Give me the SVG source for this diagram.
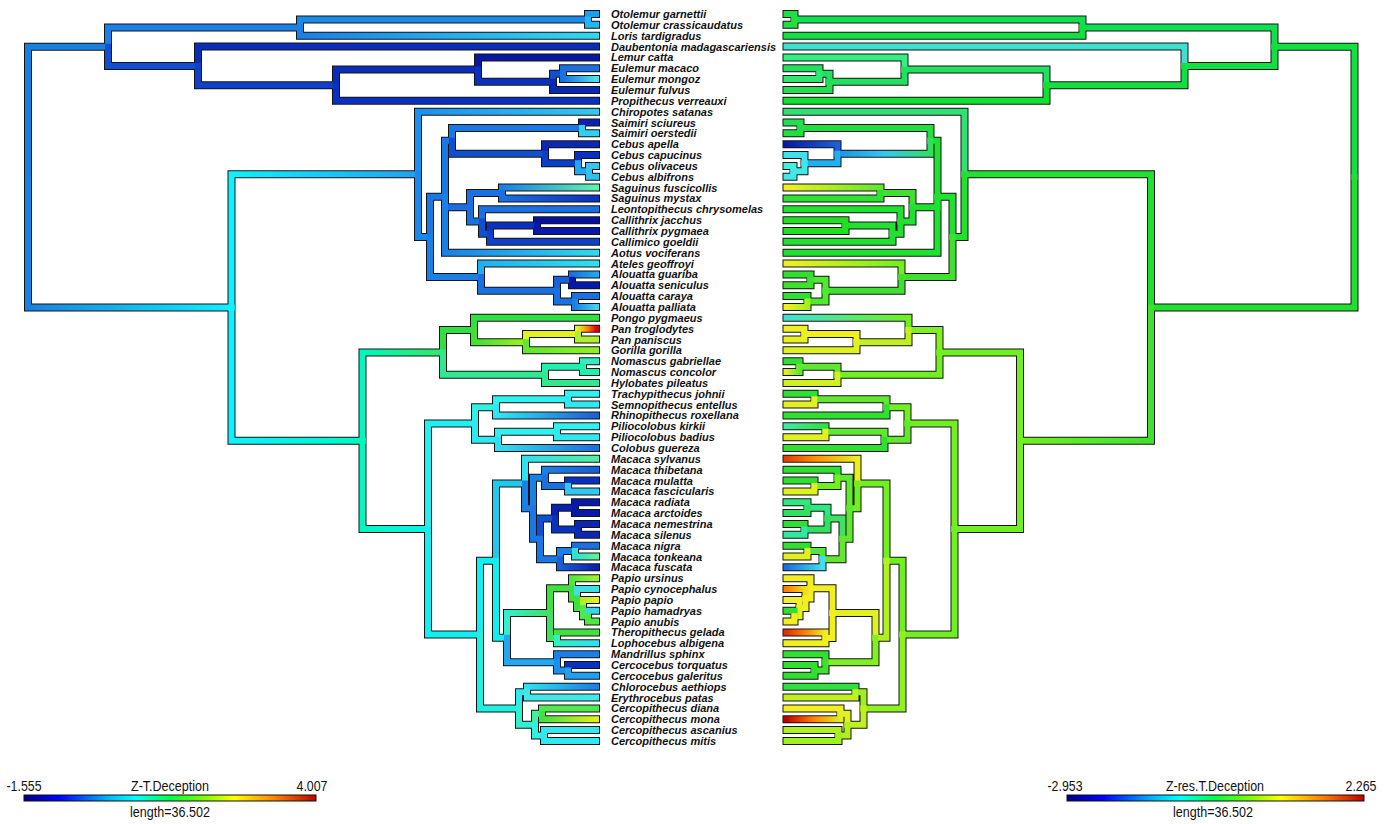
<svg xmlns="http://www.w3.org/2000/svg" xmlns:xlink="http://www.w3.org/1999/xlink" width="1386" height="824" viewBox="0 0 1386 824">
<style>
.ol{fill:none;stroke:#141414;stroke-width:8;stroke-linecap:square;stroke-linejoin:miter}
.cl path{fill:none;stroke-width:6;stroke-linecap:square;stroke-linejoin:miter}
.lab text{font-family:"Liberation Sans",Arial,sans-serif;font-weight:bold;font-style:italic;font-size:11px;fill:#111}
.leg text{font-family:"Liberation Sans",Arial,sans-serif;font-size:14px;fill:#111;text-anchor:middle}
</style>
<defs>
<linearGradient id="rb" x1="0" x2="1" y1="0" y2="0"><stop offset="0" stop-color="#00008b"/><stop offset="0.12" stop-color="#0000ff"/><stop offset="0.3" stop-color="#00c0ff"/><stop offset="0.38" stop-color="#00ffff"/><stop offset="0.5" stop-color="#00ff40"/><stop offset="0.62" stop-color="#80ff00"/><stop offset="0.72" stop-color="#ffff00"/><stop offset="0.86" stop-color="#ff8000"/><stop offset="1" stop-color="#c00000"/></linearGradient>
<linearGradient id="gLH" gradientUnits="userSpaceOnUse" x1="28" x2="231" y1="0" y2="0"><stop offset="0" stop-color="#1a80e0"/><stop offset="1" stop-color="#10f0ff"/></linearGradient>
<linearGradient id="gLoris" gradientUnits="userSpaceOnUse" x1="300" x2="596" y1="0" y2="0"><stop offset="0" stop-color="#1a80e6"/><stop offset="1" stop-color="#30d8f0"/></linearGradient>
<linearGradient id="gMongoz" gradientUnits="userSpaceOnUse" x1="563" x2="596" y1="0" y2="0"><stop offset="0" stop-color="#1a70e0"/><stop offset="1" stop-color="#50e0f0"/></linearGradient>
<linearGradient id="gHP" gradientUnits="userSpaceOnUse" x1="231" x2="418" y1="0" y2="0"><stop offset="0" stop-color="#10f0ff"/><stop offset="1" stop-color="#20a0f0"/></linearGradient>
<linearGradient id="gHC" gradientUnits="userSpaceOnUse" x1="231" x2="362" y1="0" y2="0"><stop offset="0" stop-color="#10f0ff"/><stop offset="1" stop-color="#00f8c0"/></linearGradient>
<linearGradient id="gChir" gradientUnits="userSpaceOnUse" x1="418" x2="596" y1="0" y2="0"><stop offset="0" stop-color="#1a90f0"/><stop offset="1" stop-color="#30c8f0"/></linearGradient>
<linearGradient id="gAotus" gradientUnits="userSpaceOnUse" x1="445" x2="596" y1="0" y2="0"><stop offset="0" stop-color="#1a80e6"/><stop offset="1" stop-color="#30d8f0"/></linearGradient>
<linearGradient id="gFusc" gradientUnits="userSpaceOnUse" x1="502" x2="596" y1="0" y2="0"><stop offset="0" stop-color="#1a80e6"/><stop offset="1" stop-color="#60f0b0"/></linearGradient>
<linearGradient id="gMyst" gradientUnits="userSpaceOnUse" x1="502" x2="596" y1="0" y2="0"><stop offset="0" stop-color="#1a70e0"/><stop offset="1" stop-color="#0a30c0"/></linearGradient>
<linearGradient id="gAteles" gradientUnits="userSpaceOnUse" x1="481" x2="596" y1="0" y2="0"><stop offset="0" stop-color="#20b0f0"/><stop offset="1" stop-color="#30e0f0"/></linearGradient>
<linearGradient id="gGuar" gradientUnits="userSpaceOnUse" x1="572" x2="596" y1="0" y2="0"><stop offset="0" stop-color="#1a70e0"/><stop offset="1" stop-color="#20a8f0"/></linearGradient>
<linearGradient id="gPall" gradientUnits="userSpaceOnUse" x1="575" x2="596" y1="0" y2="0"><stop offset="0" stop-color="#1a80e6"/><stop offset="1" stop-color="#40d0f0"/></linearGradient>
<linearGradient id="gHomS" gradientUnits="userSpaceOnUse" x1="362" x2="443" y1="0" y2="0"><stop offset="0" stop-color="#00f8c0"/><stop offset="1" stop-color="#30e860"/></linearGradient>
<linearGradient id="gCerS" gradientUnits="userSpaceOnUse" x1="362" x2="428" y1="0" y2="0"><stop offset="0" stop-color="#00f8c0"/><stop offset="1" stop-color="#10f0e8"/></linearGradient>
<linearGradient id="gHn" gradientUnits="userSpaceOnUse" x1="474" x2="526" y1="0" y2="0"><stop offset="0" stop-color="#40e030"/><stop offset="1" stop-color="#a0f020"/></linearGradient>
<linearGradient id="gTrog" gradientUnits="userSpaceOnUse" x1="578" x2="596" y1="0" y2="0"><stop offset="0" stop-color="#e8f020"/><stop offset="0.5" stop-color="#ff9000"/><stop offset="1" stop-color="#e00000"/></linearGradient>
<linearGradient id="gGor" gradientUnits="userSpaceOnUse" x1="526" x2="596" y1="0" y2="0"><stop offset="0" stop-color="#60e830"/><stop offset="1" stop-color="#90f020"/></linearGradient>
<linearGradient id="gRhino" gradientUnits="userSpaceOnUse" x1="496" x2="596" y1="0" y2="0"><stop offset="0" stop-color="#30e8f0"/><stop offset="1" stop-color="#1a60d8"/></linearGradient>
<linearGradient id="gColob" gradientUnits="userSpaceOnUse" x1="498" x2="596" y1="0" y2="0"><stop offset="0" stop-color="#30e0f0"/><stop offset="1" stop-color="#1a70e0"/></linearGradient>
<linearGradient id="gSylv" gradientUnits="userSpaceOnUse" x1="525" x2="596" y1="0" y2="0"><stop offset="0" stop-color="#30e0f0"/><stop offset="1" stop-color="#50f0a0"/></linearGradient>
<linearGradient id="gThib" gradientUnits="userSpaceOnUse" x1="545" x2="596" y1="0" y2="0"><stop offset="0" stop-color="#1a80e6"/><stop offset="1" stop-color="#1a60d8"/></linearGradient>
<linearGradient id="gTonk" gradientUnits="userSpaceOnUse" x1="575" x2="596" y1="0" y2="0"><stop offset="0" stop-color="#30e0d0"/><stop offset="1" stop-color="#60f0a0"/></linearGradient>
<linearGradient id="gFusca" gradientUnits="userSpaceOnUse" x1="560" x2="596" y1="0" y2="0"><stop offset="0" stop-color="#1a60d8"/><stop offset="1" stop-color="#0a20b0"/></linearGradient>
<linearGradient id="gPp2" gradientUnits="userSpaceOnUse" x1="507" x2="550" y1="0" y2="0"><stop offset="0" stop-color="#30f0d0"/><stop offset="1" stop-color="#40e060"/></linearGradient>
<linearGradient id="gUrs" gradientUnits="userSpaceOnUse" x1="572" x2="596" y1="0" y2="0"><stop offset="0" stop-color="#50e840"/><stop offset="1" stop-color="#a0f030"/></linearGradient>
<linearGradient id="gPapio" gradientUnits="userSpaceOnUse" x1="583" x2="596" y1="0" y2="0"><stop offset="0" stop-color="#b0f020"/><stop offset="1" stop-color="#e8f020"/></linearGradient>
<linearGradient id="gLopho" gradientUnits="userSpaceOnUse" x1="557" x2="596" y1="0" y2="0"><stop offset="0" stop-color="#30f0c0"/><stop offset="1" stop-color="#30e0f0"/></linearGradient>
<linearGradient id="gChlor" gradientUnits="userSpaceOnUse" x1="527" x2="596" y1="0" y2="0"><stop offset="0" stop-color="#30e0f0"/><stop offset="1" stop-color="#1a80e6"/></linearGradient>
<linearGradient id="gMona" gradientUnits="userSpaceOnUse" x1="542" x2="596" y1="0" y2="0"><stop offset="0" stop-color="#40e040"/><stop offset="1" stop-color="#e0f020"/></linearGradient>
<linearGradient id="rHC" gradientUnits="userSpaceOnUse" x1="231" x2="362" y1="0" y2="0"><stop offset="0" stop-color="#40e030"/><stop offset="1" stop-color="#70f020"/></linearGradient>
<linearGradient id="rCbs" gradientUnits="userSpaceOnUse" x1="452" x2="545" y1="0" y2="0"><stop offset="0" stop-color="#30e060"/><stop offset="0.5" stop-color="#30c8f0"/><stop offset="1" stop-color="#2090e8"/></linearGradient>
<linearGradient id="rApella" gradientUnits="userSpaceOnUse" x1="545" x2="596" y1="0" y2="0"><stop offset="0" stop-color="#1a60d8"/><stop offset="1" stop-color="#0a1aa8"/></linearGradient>
<linearGradient id="rFusc" gradientUnits="userSpaceOnUse" x1="502" x2="596" y1="0" y2="0"><stop offset="0" stop-color="#60e830"/><stop offset="1" stop-color="#f0f020"/></linearGradient>
<linearGradient id="rAteles" gradientUnits="userSpaceOnUse" x1="481" x2="596" y1="0" y2="0"><stop offset="0" stop-color="#70f020"/><stop offset="1" stop-color="#f0f020"/></linearGradient>
<linearGradient id="rPall" gradientUnits="userSpaceOnUse" x1="575" x2="596" y1="0" y2="0"><stop offset="0" stop-color="#a0f020"/><stop offset="1" stop-color="#f0f020"/></linearGradient>
<linearGradient id="rPongo" gradientUnits="userSpaceOnUse" x1="474" x2="596" y1="0" y2="0"><stop offset="0" stop-color="#70f020"/><stop offset="1" stop-color="#40e0d0"/></linearGradient>
<linearGradient id="rT33" gradientUnits="userSpaceOnUse" x1="583" x2="596" y1="0" y2="0"><stop offset="0" stop-color="#60e830"/><stop offset="1" stop-color="#e0f020"/></linearGradient>
<linearGradient id="rPil38" gradientUnits="userSpaceOnUse" x1="557" x2="596" y1="0" y2="0"><stop offset="0" stop-color="#30e040"/><stop offset="1" stop-color="#40e8a0"/></linearGradient>
<linearGradient id="rSylv" gradientUnits="userSpaceOnUse" x1="525" x2="596" y1="0" y2="0"><stop offset="0" stop-color="#e8f020"/><stop offset="0.6" stop-color="#ff9000"/><stop offset="1" stop-color="#e04000"/></linearGradient>
<linearGradient id="rFusca" gradientUnits="userSpaceOnUse" x1="560" x2="596" y1="0" y2="0"><stop offset="0" stop-color="#40e0f0"/><stop offset="1" stop-color="#1a70e0"/></linearGradient>
<linearGradient id="rCyno" gradientUnits="userSpaceOnUse" x1="577" x2="596" y1="0" y2="0"><stop offset="0" stop-color="#f0e020"/><stop offset="1" stop-color="#ff8000"/></linearGradient>
<linearGradient id="rThero" gradientUnits="userSpaceOnUse" x1="557" x2="596" y1="0" y2="0"><stop offset="0" stop-color="#f0f020"/><stop offset="0.6" stop-color="#ff7000"/><stop offset="1" stop-color="#e03000"/></linearGradient>
<linearGradient id="rMona" gradientUnits="userSpaceOnUse" x1="542" x2="596" y1="0" y2="0"><stop offset="0" stop-color="#e0f020"/><stop offset="0.5" stop-color="#ff8000"/><stop offset="1" stop-color="#c00000"/></linearGradient>
<path id="T" d="M28 177.11V46.72H108M28 177.11V307.5H231.5M108 46.72V27.56H300M108 46.72V65.88H198M300 27.56V19.43H588M300 27.56V35.7H596M588 19.43V14H596M588 19.43V24.85H596M198 65.88V46.55H596M198 65.88V85.2H336M336 85.2V69.6H478M336 85.2V100.8H596M478 69.6V57.4H596M478 69.6V81.81H553M553 81.81V73.68H563M553 81.81V89.95H596M563 73.68V68.25H596M563 73.68V79.1H596M231.5 307.5V174.29H418M231.5 307.5V440.72H362.5M418 174.29V111.65H596M418 174.29V236.94H430M430 236.94V196.76H445M430 236.94V277.11H481M445 196.76V140.81H452M445 196.76V207.27H470M445 196.76V252.7H596M452 140.81V127.93H582M452 140.81V153.7H545M582 127.93V122.5H596M582 127.93V133.35H596M545 153.7V144.2H596M545 153.7V163.19H578M578 163.19V155.05H596M578 163.19V171.33H589M589 171.33V165.9H596M589 171.33V176.75H596M470 207.27V193.03H502M470 207.27V221.5H482M502 193.03V187.6H596M502 193.03V198.45H596M482 221.5V209.3H596M482 221.5V233.71H490M490 233.71V225.58H537M490 233.71V241.85H596M537 225.58V220.15H596M537 225.58V231H596M481 277.11V263.55H596M481 277.11V290.68H557M557 290.68V279.83H572M557 290.68V301.53H575M572 279.83V274.4H596M572 279.83V285.25H596M575 301.53V296.1H596M575 301.53V306.95H596M362.5 440.72V352.38H443M362.5 440.72V529.06H428M443 352.38V330H474M443 352.38V374.76H545M474 330V317.8H596M474 330V342.21H526M526 342.21V334.08H578M526 342.21V350.35H596M578 334.08V328.65H596M578 334.08V339.5H596M545 374.76V366.63H583M545 374.76V382.9H596M583 366.63V361.2H596M583 366.63V372.05H596M428 529.06V423.59H475M428 529.06V634.53H480M475 423.59V407.31H496M475 423.59V439.86H498M496 407.31V399.18H568M496 407.31V415.45H596M568 399.18V393.75H596M568 399.18V404.6H596M498 439.86V431.73H557M498 439.86V448H596M557 431.73V426.3H596M557 431.73V437.15H596M480 634.53V560.65H496M480 634.53V708.4H519M496 560.65V483.6H525M496 560.65V637.7H507M525 483.6V458.85H596M525 483.6V508.36H533M533 508.36V477.84H545M533 508.36V538.87H540M545 477.84V469.7H596M545 477.84V485.98H568M568 485.98V480.55H596M568 485.98V491.4H596M540 538.87V518.53H555M540 538.87V559.21H560M555 518.53V507.68H575M555 518.53V529.38H578M575 507.68V502.25H596M575 507.68V513.1H596M578 529.38V523.95H596M578 529.38V534.8H596M560 559.21V551.08H575M560 559.21V567.35H596M575 551.08V545.65H596M575 551.08V556.5H596M507 637.7V613.12H550M507 637.7V662.29H557M550 613.12V588.37H572M550 613.12V637.88H557M572 588.37V578.2H596M572 588.37V598.54H577M577 598.54V589.05H596M577 598.54V608.04H583M583 608.04V599.9H596M583 608.04V616.18H588M588 616.18V610.75H596M588 616.18V621.6H596M557 637.88V632.45H596M557 637.88V643.3H596M557 662.29V654.15H596M557 662.29V670.43H568M568 670.43V665H596M568 670.43V675.85H596M519 708.4V692.13H527M519 708.4V724.68H535M527 692.13V686.7H596M527 692.13V697.55H596M535 724.68V713.83H542M535 724.68V735.53H544M542 713.83V708.4H596M542 713.83V719.25H596M544 735.53V730.1H596M544 735.53V740.95H596"/>
</defs>
<rect width="1386" height="824" fill="#fff"/>
<g id="connectors">
<g id="tree-left">
<use href="#T" class="ol"/>
<g class="cl">
<path d="M28 177.11V46.72H108" stroke="#1a80e0"/>
<path d="M28 177.11V307.5H231.5" stroke="url(#gLH)"/>
<path d="M108 46.72V27.56H300" stroke="#1a80e6"/>
<path d="M108 46.72V65.88H198" stroke="#1050d0"/>
<path d="M300 27.56V19.43H588" stroke="#1a8ae8"/>
<path d="M300 27.56V35.7H596" stroke="url(#gLoris)"/>
<path d="M588 19.43V14H596" stroke="#18a0f0"/>
<path d="M588 19.43V24.85H596" stroke="#20b8f0"/>
<path d="M198 65.88V46.55H596" stroke="#0a2cb8"/>
<path d="M198 65.88V85.2H336" stroke="#0f40c8"/>
<path d="M336 85.2V69.6H478" stroke="#0a2cb8"/>
<path d="M336 85.2V100.8H596" stroke="#0a30c0"/>
<path d="M478 69.6V57.4H596" stroke="#0818a0"/>
<path d="M478 69.6V81.81H553" stroke="#0a30c0"/>
<path d="M553 81.81V73.68H563" stroke="#1050d0"/>
<path d="M553 81.81V89.95H596" stroke="#0a28b4"/>
<path d="M563 73.68V68.25H596" stroke="#1a70e0"/>
<path d="M563 73.68V79.1H596" stroke="url(#gMongoz)"/>
<path d="M231.5 307.5V174.29H418" stroke="url(#gHP)"/>
<path d="M231.5 307.5V440.72H362.5" stroke="url(#gHC)"/>
<path d="M418 174.29V111.65H596" stroke="url(#gChir)"/>
<path d="M418 174.29V236.94H430" stroke="#1a88ec"/>
<path d="M430 236.94V196.76H445" stroke="#1a78e4"/>
<path d="M430 236.94V277.11H481" stroke="#1a80e6"/>
<path d="M445 196.76V140.81H452" stroke="#1a78e4"/>
<path d="M445 196.76V207.27H470" stroke="#1a6ee0"/>
<path d="M445 196.76V252.7H596" stroke="url(#gAotus)"/>
<path d="M452 140.81V127.93H582" stroke="#1a78e4"/>
<path d="M452 140.81V153.7H545" stroke="#1050d0"/>
<path d="M582 127.93V122.5H596" stroke="#0a20b0"/>
<path d="M582 127.93V133.35H596" stroke="#30d0f0"/>
<path d="M545 153.7V144.2H596" stroke="#0a28b4"/>
<path d="M545 153.7V163.19H578" stroke="#0a40c8"/>
<path d="M578 163.19V155.05H596" stroke="#0a30c0"/>
<path d="M578 163.19V171.33H589" stroke="#20a8f0"/>
<path d="M589 171.33V165.9H596" stroke="#30c8f0"/>
<path d="M589 171.33V176.75H596" stroke="#30c0f0"/>
<path d="M470 207.27V193.03H502" stroke="#1a70e0"/>
<path d="M470 207.27V221.5H482" stroke="#1a70e0"/>
<path d="M502 193.03V187.6H596" stroke="url(#gFusc)"/>
<path d="M502 193.03V198.45H596" stroke="url(#gMyst)"/>
<path d="M482 221.5V209.3H596" stroke="#1a70e0"/>
<path d="M482 221.5V233.71H490" stroke="#1050d0"/>
<path d="M490 233.71V225.58H537" stroke="#0a30c0"/>
<path d="M490 233.71V241.85H596" stroke="#1040c8"/>
<path d="M537 225.58V220.15H596" stroke="#0810a0"/>
<path d="M537 225.58V231H596" stroke="#0818a8"/>
<path d="M481 277.11V263.55H596" stroke="url(#gAteles)"/>
<path d="M481 277.11V290.68H557" stroke="#1a70e0"/>
<path d="M557 290.68V279.83H572" stroke="#1a60d8"/>
<path d="M557 290.68V301.53H575" stroke="#1a70e0"/>
<path d="M572 279.83V274.4H596" stroke="url(#gGuar)"/>
<path d="M572 279.83V285.25H596" stroke="#0818a8"/>
<path d="M575 301.53V296.1H596" stroke="#1a70e0"/>
<path d="M575 301.53V306.95H596" stroke="url(#gPall)"/>
<path d="M362.5 440.72V352.38H443" stroke="url(#gHomS)"/>
<path d="M362.5 440.72V529.06H428" stroke="url(#gCerS)"/>
<path d="M443 352.38V330H474" stroke="#30e040"/>
<path d="M443 352.38V374.76H545" stroke="#30e890"/>
<path d="M474 330V317.8H596" stroke="#30e040"/>
<path d="M474 330V342.21H526" stroke="url(#gHn)"/>
<path d="M526 342.21V334.08H578" stroke="#e0f020"/>
<path d="M526 342.21V350.35H596" stroke="url(#gGor)"/>
<path d="M578 334.08V328.65H596" stroke="url(#gTrog)"/>
<path d="M578 334.08V339.5H596" stroke="#b0f030"/>
<path d="M545 374.76V366.63H583" stroke="#20f0b0"/>
<path d="M545 374.76V382.9H596" stroke="#30e890"/>
<path d="M583 366.63V361.2H596" stroke="#30f0c0"/>
<path d="M583 366.63V372.05H596" stroke="#20f0b0"/>
<path d="M428 529.06V423.59H475" stroke="#20f0f0"/>
<path d="M428 529.06V634.53H480" stroke="#10f0f0"/>
<path d="M475 423.59V407.31H496" stroke="#30f0e8"/>
<path d="M475 423.59V439.86H498" stroke="#30e8f0"/>
<path d="M496 407.31V399.18H568" stroke="#30f0f0"/>
<path d="M496 407.31V415.45H596" stroke="url(#gRhino)"/>
<path d="M568 399.18V393.75H596" stroke="#30f0f0"/>
<path d="M568 399.18V404.6H596" stroke="#30e8f0"/>
<path d="M498 439.86V431.73H557" stroke="#30f0f0"/>
<path d="M498 439.86V448H596" stroke="url(#gColob)"/>
<path d="M557 431.73V426.3H596" stroke="#30f0f0"/>
<path d="M557 431.73V437.15H596" stroke="#30e8f0"/>
<path d="M480 634.53V560.65H496" stroke="#10f0f0"/>
<path d="M480 634.53V708.4H519" stroke="#20f0e0"/>
<path d="M496 560.65V483.6H525" stroke="#20c8f0"/>
<path d="M496 560.65V637.7H507" stroke="#10f0f0"/>
<path d="M525 483.6V458.85H596" stroke="url(#gSylv)"/>
<path d="M525 483.6V508.36H533" stroke="#1a80e6"/>
<path d="M533 508.36V477.84H545" stroke="#1a80e6"/>
<path d="M533 508.36V538.87H540" stroke="#1a78e4"/>
<path d="M545 477.84V469.7H596" stroke="url(#gThib)"/>
<path d="M545 477.84V485.98H568" stroke="#1a70e0"/>
<path d="M568 485.98V480.55H596" stroke="#0a30c0"/>
<path d="M568 485.98V491.4H596" stroke="#30c8f0"/>
<path d="M540 538.87V518.53H555" stroke="#1050d0"/>
<path d="M540 538.87V559.21H560" stroke="#1a78e4"/>
<path d="M555 518.53V507.68H575" stroke="#0a20b0"/>
<path d="M555 518.53V529.38H578" stroke="#0a30c0"/>
<path d="M575 507.68V502.25H596" stroke="#0818a8"/>
<path d="M575 507.68V513.1H596" stroke="#0818a8"/>
<path d="M578 529.38V523.95H596" stroke="#0a28b4"/>
<path d="M578 529.38V534.8H596" stroke="#0a28b4"/>
<path d="M560 559.21V551.08H575" stroke="#1a80e6"/>
<path d="M560 559.21V567.35H596" stroke="url(#gFusca)"/>
<path d="M575 551.08V545.65H596" stroke="#1a70e0"/>
<path d="M575 551.08V556.5H596" stroke="url(#gTonk)"/>
<path d="M507 637.7V613.12H550" stroke="url(#gPp2)"/>
<path d="M507 637.7V662.29H557" stroke="#20a8f0"/>
<path d="M550 613.12V588.37H572" stroke="#40e040"/>
<path d="M550 613.12V637.88H557" stroke="#40e060"/>
<path d="M572 588.37V578.2H596" stroke="url(#gUrs)"/>
<path d="M572 588.37V598.54H577" stroke="#40e040"/>
<path d="M577 598.54V589.05H596" stroke="#40e0e0"/>
<path d="M577 598.54V608.04H583" stroke="#40e040"/>
<path d="M583 608.04V599.9H596" stroke="url(#gPapio)"/>
<path d="M583 608.04V616.18H588" stroke="#50e850"/>
<path d="M588 616.18V610.75H596" stroke="#30d8f0"/>
<path d="M588 616.18V621.6H596" stroke="#50e840"/>
<path d="M557 637.88V632.45H596" stroke="#40e040"/>
<path d="M557 637.88V643.3H596" stroke="url(#gLopho)"/>
<path d="M557 662.29V654.15H596" stroke="#1a80e6"/>
<path d="M557 662.29V670.43H568" stroke="#1a90ec"/>
<path d="M568 670.43V665H596" stroke="#0a30c0"/>
<path d="M568 670.43V675.85H596" stroke="#20a0f0"/>
<path d="M519 708.4V692.13H527" stroke="#30e8f0"/>
<path d="M519 708.4V724.68H535" stroke="#30f0d0"/>
<path d="M527 692.13V686.7H596" stroke="url(#gChlor)"/>
<path d="M527 692.13V697.55H596" stroke="#40e8e8"/>
<path d="M535 724.68V713.83H542" stroke="#40f0a0"/>
<path d="M535 724.68V735.53H544" stroke="#30f0e0"/>
<path d="M542 713.83V708.4H596" stroke="#50e850"/>
<path d="M542 713.83V719.25H596" stroke="url(#gMona)"/>
<path d="M544 735.53V730.1H596" stroke="#30e8f0"/>
<path d="M544 735.53V740.95H596" stroke="#30e8f0"/>
</g>
</g>
<g id="tree-right" transform="matrix(-1 0 0 1 1382.5 0)">
<use href="#T" class="ol"/>
<g class="cl">
<path d="M28 177.11V46.72H108" stroke="#10e040"/>
<path d="M28 177.11V307.5H231.5" stroke="#20e030"/>
<path d="M108 46.72V27.56H300" stroke="#10e050"/>
<path d="M108 46.72V65.88H198" stroke="#10e040"/>
<path d="M300 27.56V19.43H588" stroke="#10e050"/>
<path d="M300 27.56V35.7H596" stroke="#10e040"/>
<path d="M588 19.43V14H596" stroke="#20e040"/>
<path d="M588 19.43V24.85H596" stroke="#20e040"/>
<path d="M198 65.88V46.55H596" stroke="#40e0d0"/>
<path d="M198 65.88V85.2H336" stroke="#10e040"/>
<path d="M336 85.2V69.6H478" stroke="#20e060"/>
<path d="M336 85.2V100.8H596" stroke="#10e030"/>
<path d="M478 69.6V57.4H596" stroke="#30f080"/>
<path d="M478 69.6V81.81H553" stroke="#20e060"/>
<path d="M553 81.81V73.68H563" stroke="#20e060"/>
<path d="M553 81.81V89.95H596" stroke="#20e050"/>
<path d="M563 73.68V68.25H596" stroke="#20e060"/>
<path d="M563 73.68V79.1H596" stroke="#30e870"/>
<path d="M231.5 307.5V174.29H418" stroke="#20e030"/>
<path d="M231.5 307.5V440.72H362.5" stroke="url(#rHC)"/>
<path d="M418 174.29V111.65H596" stroke="#30e070"/>
<path d="M418 174.29V236.94H430" stroke="#20e030"/>
<path d="M430 236.94V196.76H445" stroke="#20e030"/>
<path d="M430 236.94V277.11H481" stroke="#40e030"/>
<path d="M445 196.76V140.81H452" stroke="#20e030"/>
<path d="M445 196.76V207.27H470" stroke="#20e030"/>
<path d="M445 196.76V252.7H596" stroke="#20e030"/>
<path d="M452 140.81V127.93H582" stroke="#20e040"/>
<path d="M452 140.81V153.7H545" stroke="url(#rCbs)"/>
<path d="M582 127.93V122.5H596" stroke="#20e050"/>
<path d="M582 127.93V133.35H596" stroke="#20e040"/>
<path d="M545 153.7V144.2H596" stroke="url(#rApella)"/>
<path d="M545 153.7V163.19H578" stroke="#20b0f0"/>
<path d="M578 163.19V155.05H596" stroke="#40e0f0"/>
<path d="M578 163.19V171.33H589" stroke="#40e8e8"/>
<path d="M589 171.33V165.9H596" stroke="#40f0e0"/>
<path d="M589 171.33V176.75H596" stroke="#40e8e8"/>
<path d="M470 207.27V193.03H502" stroke="#40e030"/>
<path d="M470 207.27V221.5H482" stroke="#20e030"/>
<path d="M502 193.03V187.6H596" stroke="url(#rFusc)"/>
<path d="M502 193.03V198.45H596" stroke="#30e030"/>
<path d="M482 221.5V209.3H596" stroke="#20e030"/>
<path d="M482 221.5V233.71H490" stroke="#20e030"/>
<path d="M490 233.71V225.58H537" stroke="#20e030"/>
<path d="M490 233.71V241.85H596" stroke="#20e030"/>
<path d="M537 225.58V220.15H596" stroke="#20e020"/>
<path d="M537 225.58V231H596" stroke="#20e020"/>
<path d="M481 277.11V263.55H596" stroke="url(#rAteles)"/>
<path d="M481 277.11V290.68H557" stroke="#40e030"/>
<path d="M557 290.68V279.83H572" stroke="#50e830"/>
<path d="M557 290.68V301.53H575" stroke="#50e830"/>
<path d="M572 279.83V274.4H596" stroke="#30e030"/>
<path d="M572 279.83V285.25H596" stroke="#40e030"/>
<path d="M575 301.53V296.1H596" stroke="#30e030"/>
<path d="M575 301.53V306.95H596" stroke="url(#rPall)"/>
<path d="M362.5 440.72V352.38H443" stroke="#70f020"/>
<path d="M362.5 440.72V529.06H428" stroke="#70f020"/>
<path d="M443 352.38V330H474" stroke="#80f020"/>
<path d="M443 352.38V374.76H545" stroke="#70f020"/>
<path d="M474 330V317.8H596" stroke="url(#rPongo)"/>
<path d="M474 330V342.21H526" stroke="#c0f020"/>
<path d="M526 342.21V334.08H578" stroke="#f0f020"/>
<path d="M526 342.21V350.35H596" stroke="#e0f020"/>
<path d="M578 334.08V328.65H596" stroke="#f0f020"/>
<path d="M578 334.08V339.5H596" stroke="#e8f020"/>
<path d="M545 374.76V366.63H583" stroke="#60e830"/>
<path d="M545 374.76V382.9H596" stroke="#d0f020"/>
<path d="M583 366.63V361.2H596" stroke="#30e030"/>
<path d="M583 366.63V372.05H596" stroke="url(#rT33)"/>
<path d="M428 529.06V423.59H475" stroke="#70f020"/>
<path d="M428 529.06V634.53H480" stroke="#70f020"/>
<path d="M475 423.59V407.31H496" stroke="#70f020"/>
<path d="M475 423.59V439.86H498" stroke="#60e830"/>
<path d="M496 407.31V399.18H568" stroke="#60e830"/>
<path d="M496 407.31V415.45H596" stroke="#30e030"/>
<path d="M568 399.18V393.75H596" stroke="#30e030"/>
<path d="M568 399.18V404.6H596" stroke="#e0f020"/>
<path d="M498 439.86V431.73H557" stroke="#60e830"/>
<path d="M498 439.86V448H596" stroke="#30e030"/>
<path d="M557 431.73V426.3H596" stroke="url(#rPil38)"/>
<path d="M557 431.73V437.15H596" stroke="#e0f020"/>
<path d="M480 634.53V560.65H496" stroke="#70f020"/>
<path d="M480 634.53V708.4H519" stroke="#90f020"/>
<path d="M496 560.65V483.6H525" stroke="#70f020"/>
<path d="M496 560.65V637.7H507" stroke="#b0f020"/>
<path d="M525 483.6V458.85H596" stroke="url(#rSylv)"/>
<path d="M525 483.6V508.36H533" stroke="#70f020"/>
<path d="M533 508.36V477.84H545" stroke="#60e830"/>
<path d="M533 508.36V538.87H540" stroke="#60e830"/>
<path d="M545 477.84V469.7H596" stroke="#30e030"/>
<path d="M545 477.84V485.98H568" stroke="#70f020"/>
<path d="M568 485.98V480.55H596" stroke="#30e030"/>
<path d="M568 485.98V491.4H596" stroke="#e0f020"/>
<path d="M540 538.87V518.53H555" stroke="#40e060"/>
<path d="M540 538.87V559.21H560" stroke="#60e830"/>
<path d="M555 518.53V507.68H575" stroke="#30e880"/>
<path d="M555 518.53V529.38H578" stroke="#30e060"/>
<path d="M575 507.68V502.25H596" stroke="#30e880"/>
<path d="M575 507.68V513.1H596" stroke="#30e060"/>
<path d="M578 529.38V523.95H596" stroke="#30e030"/>
<path d="M578 529.38V534.8H596" stroke="#30e8a0"/>
<path d="M560 559.21V551.08H575" stroke="#50e840"/>
<path d="M560 559.21V567.35H596" stroke="url(#rFusca)"/>
<path d="M575 551.08V545.65H596" stroke="#30e030"/>
<path d="M575 551.08V556.5H596" stroke="#e0f020"/>
<path d="M507 637.7V613.12H550" stroke="#e0f020"/>
<path d="M507 637.7V662.29H557" stroke="#80f020"/>
<path d="M550 613.12V588.37H572" stroke="#f0f020"/>
<path d="M550 613.12V637.88H557" stroke="#f0f020"/>
<path d="M572 588.37V578.2H596" stroke="#f0f020"/>
<path d="M572 588.37V598.54H577" stroke="#f0f020"/>
<path d="M577 598.54V589.05H596" stroke="url(#rCyno)"/>
<path d="M577 598.54V608.04H583" stroke="#f0f020"/>
<path d="M583 608.04V599.9H596" stroke="#f0f030"/>
<path d="M583 608.04V616.18H588" stroke="#e0f020"/>
<path d="M588 616.18V610.75H596" stroke="#30e030"/>
<path d="M588 616.18V621.6H596" stroke="#f0f020"/>
<path d="M557 637.88V632.45H596" stroke="url(#rThero)"/>
<path d="M557 637.88V643.3H596" stroke="#f0f020"/>
<path d="M557 662.29V654.15H596" stroke="#30e030"/>
<path d="M557 662.29V670.43H568" stroke="#40e030"/>
<path d="M568 670.43V665H596" stroke="#30e030"/>
<path d="M568 670.43V675.85H596" stroke="#30e030"/>
<path d="M519 708.4V692.13H527" stroke="#a0f020"/>
<path d="M519 708.4V724.68H535" stroke="#c0f020"/>
<path d="M527 692.13V686.7H596" stroke="#30e040"/>
<path d="M527 692.13V697.55H596" stroke="#c0f020"/>
<path d="M535 724.68V713.83H542" stroke="#e0f020"/>
<path d="M535 724.68V735.53H544" stroke="#b0f020"/>
<path d="M542 713.83V708.4H596" stroke="#f0f020"/>
<path d="M542 713.83V719.25H596" stroke="url(#rMona)"/>
<path d="M544 735.53V730.1H596" stroke="#b0f020"/>
<path d="M544 735.53V740.95H596" stroke="#a0f020"/>
</g>
</g>
</g>
<g id="labels" class="lab">
<text x="611" y="18">Otolemur garnettii</text>
<text x="611" y="28.85">Otolemur crassicaudatus</text>
<text x="611" y="39.7">Loris tardigradus</text>
<text x="611" y="50.55">Daubentonia madagascariensis</text>
<text x="611" y="61.4">Lemur catta</text>
<text x="611" y="72.25">Eulemur macaco</text>
<text x="611" y="83.1">Eulemur mongoz</text>
<text x="611" y="93.95">Eulemur fulvus</text>
<text x="611" y="104.8">Propithecus verreauxi</text>
<text x="611" y="115.65">Chiropotes satanas</text>
<text x="611" y="126.5">Saimiri sciureus</text>
<text x="611" y="137.35">Saimiri oerstedii</text>
<text x="611" y="148.2">Cebus apella</text>
<text x="611" y="159.05">Cebus capucinus</text>
<text x="611" y="169.9">Cebus olivaceus</text>
<text x="611" y="180.75">Cebus albifrons</text>
<text x="611" y="191.6">Saguinus fuscicollis</text>
<text x="611" y="202.45">Saguinus mystax</text>
<text x="611" y="213.3">Leontopithecus chrysomelas</text>
<text x="611" y="224.15">Callithrix jacchus</text>
<text x="611" y="235">Callithrix pygmaea</text>
<text x="611" y="245.85">Callimico goeldii</text>
<text x="611" y="256.7">Aotus vociferans</text>
<text x="611" y="267.55">Ateles geoffroyi</text>
<text x="611" y="278.4">Alouatta guariba</text>
<text x="611" y="289.25">Alouatta seniculus</text>
<text x="611" y="300.1">Alouatta caraya</text>
<text x="611" y="310.95">Alouatta palliata</text>
<text x="611" y="321.8">Pongo pygmaeus</text>
<text x="611" y="332.65">Pan troglodytes</text>
<text x="611" y="343.5">Pan paniscus</text>
<text x="611" y="354.35">Gorilla gorilla</text>
<text x="611" y="365.2">Nomascus gabriellae</text>
<text x="611" y="376.05">Nomascus concolor</text>
<text x="611" y="386.9">Hylobates pileatus</text>
<text x="611" y="397.75">Trachypithecus johnii</text>
<text x="611" y="408.6">Semnopithecus entellus</text>
<text x="611" y="419.45">Rhinopithecus roxellana</text>
<text x="611" y="430.3">Piliocolobus kirkii</text>
<text x="611" y="441.15">Piliocolobus badius</text>
<text x="611" y="452">Colobus guereza</text>
<text x="611" y="462.85">Macaca sylvanus</text>
<text x="611" y="473.7">Macaca thibetana</text>
<text x="611" y="484.55">Macaca mulatta</text>
<text x="611" y="495.4">Macaca fascicularis</text>
<text x="611" y="506.25">Macaca radiata</text>
<text x="611" y="517.1">Macaca arctoides</text>
<text x="611" y="527.95">Macaca nemestrina</text>
<text x="611" y="538.8">Macaca silenus</text>
<text x="611" y="549.65">Macaca nigra</text>
<text x="611" y="560.5">Macaca tonkeana</text>
<text x="611" y="571.35">Macaca fuscata</text>
<text x="611" y="582.2">Papio ursinus</text>
<text x="611" y="593.05">Papio cynocephalus</text>
<text x="611" y="603.9">Papio papio</text>
<text x="611" y="614.75">Papio hamadryas</text>
<text x="611" y="625.6">Papio anubis</text>
<text x="611" y="636.45">Theropithecus gelada</text>
<text x="611" y="647.3">Lophocebus albigena</text>
<text x="611" y="658.15">Mandrillus sphinx</text>
<text x="611" y="669">Cercocebus torquatus</text>
<text x="611" y="679.85">Cercocebus galeritus</text>
<text x="611" y="690.7">Chlorocebus aethiops</text>
<text x="611" y="701.55">Erythrocebus patas</text>
<text x="611" y="712.4">Cercopithecus diana</text>
<text x="611" y="723.25">Cercopithecus mona</text>
<text x="611" y="734.1">Cercopithecus ascanius</text>
<text x="611" y="744.95">Cercopithecus mitis</text>
</g>
<g id="legend-left" class="leg">
<text x="24" y="791" textLength="35" lengthAdjust="spacingAndGlyphs">-1.555</text>
<text x="170" y="791" textLength="78" lengthAdjust="spacingAndGlyphs">Z-T.Deception</text>
<text x="312" y="791" textLength="31" lengthAdjust="spacingAndGlyphs">4.007</text>
<rect x="24" y="795" width="292" height="6" fill="url(#rb)" stroke="#111" stroke-width="1"/>
<text x="170" y="817" textLength="80" lengthAdjust="spacingAndGlyphs">length=36.502</text>
</g>
<g id="legend-right" class="leg">
<text x="1065" y="791" textLength="35" lengthAdjust="spacingAndGlyphs">-2.953</text>
<text x="1215" y="791" textLength="98" lengthAdjust="spacingAndGlyphs">Z-res.T.Deception</text>
<text x="1361" y="791" textLength="31" lengthAdjust="spacingAndGlyphs">2.265</text>
<rect x="1067" y="795" width="297" height="6" fill="url(#rb)" stroke="#111" stroke-width="1"/>
<text x="1213" y="817" textLength="80" lengthAdjust="spacingAndGlyphs">length=36.502</text>
</g>
</svg>
